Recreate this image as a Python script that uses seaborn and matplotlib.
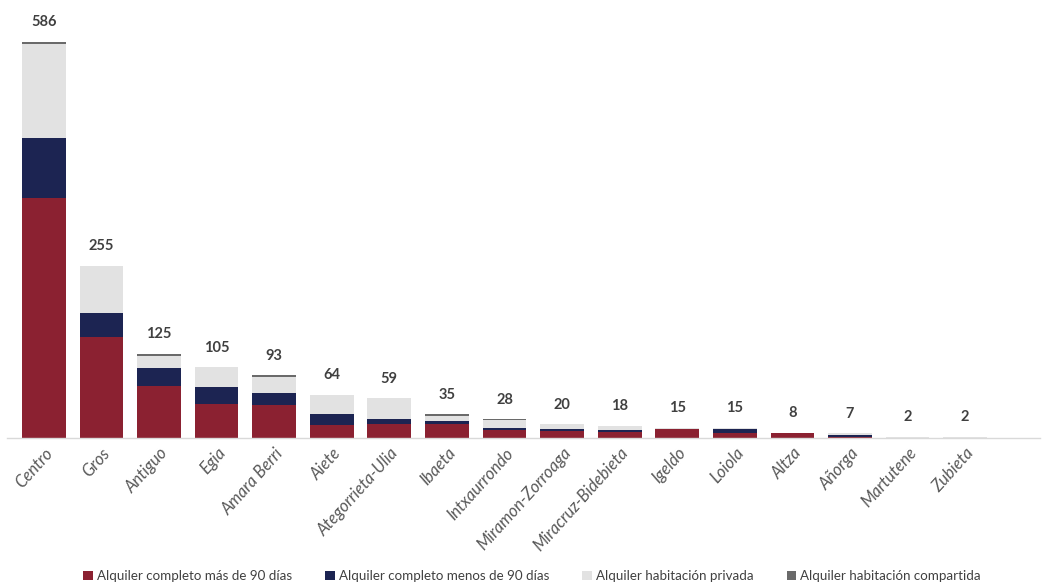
import numpy as np
import pandas as pd
import matplotlib
matplotlib.use("Agg")
import matplotlib.pyplot as plt
import seaborn as sns
from matplotlib.patches import Patch

barrios = ["Centro", "Gros", "Antiguo", "Egia", "Amara Berri", "Aiete",
           "Ategorrieta-Ulia", "Ibaeta", "Intxaurrondo", "Miramon-Zorroaga",
           "Miracruz-Bidebieta", "Igeldo", "Loiola", "Altza", "Añorga",
           "Martutene", "Zubieta"]
completo_mas_90 = [355, 150, 77, 50, 49, 19, 20, 20, 12, 11, 9, 14, 8, 7, 1, 0, 0]
completo_menos_90 = [89, 35, 26, 25, 17, 16, 8, 5, 3, 3, 3, 0, 5, 0, 4, 0, 0]
habitacion_privada = [139, 70, 19, 30, 25, 29, 31, 8, 11, 6, 6, 1, 2, 1, 2, 2, 2]
habitacion_compartida = [3, 0, 3, 0, 2, 0, 0, 2, 2, 0, 0, 0, 0, 0, 0, 0, 0]
totales = [586, 255, 125, 105, 93, 64, 59, 35, 28, 20, 18, 15, 15, 8, 7, 2, 2]

series = ["Alquiler completo más de 90 días", "Alquiler completo menos de 90 días",
          "Alquiler habitación privada", "Alquiler habitación compartida"]
colores = ["#8B2131", "#1C2452", "#E2E2E2", "#6A6A6A"]

sns.set_theme(style="white")
plt.rcParams["font.family"] = ["Lato", "DejaVu Sans"]

df = pd.DataFrame({
    "barrio": barrios,
    series[0]: completo_mas_90,
    series[1]: completo_menos_90,
    series[2]: habitacion_privada,
    series[3]: habitacion_compartida,
})
capas = df[series].cumsum(axis=1)

fig = plt.figure(figsize=(10.43, 5.87), dpi=100)
ax = fig.add_axes([7 / 1043, 1 - 438 / 587, 1033 / 1043, 419 / 587])

# stacked bars: draw cumulative heights from the top layer down
for nombre, color in reversed(list(zip(series, colores))):
    sns.barplot(x=df["barrio"], y=capas[nombre], color=color, width=0.76,
                saturation=1, ax=ax, linewidth=0)

for i, total in enumerate(totales):
    ax.annotate(str(total), (i, total), xytext=(0, 9), textcoords="offset points",
                ha="center", va="bottom", fontsize=10.5, fontweight="bold",
                color="#404040")

ax.set_xlim(-0.64, 17.3)
ax.set_ylim(0, 620)
ax.set_xlabel("")
ax.set_ylabel("")
ax.set_yticks([])
for lado in ["top", "right", "left"]:
    ax.spines[lado].set_visible(False)
ax.spines["bottom"].set_color("#D9D9D9")
ax.spines["bottom"].set_linewidth(1)
ax.tick_params(axis="x", length=0, pad=5)
plt.setp(ax.get_xticklabels(), rotation=48, ha="right", rotation_mode="anchor",
         fontstyle="italic", fontsize=12, color="#595959")

handles = [Patch(facecolor=c, edgecolor="none") for c in colores]
fig.legend(handles, series, loc="lower center", bbox_to_anchor=(0.51, -0.012),
           ncol=4, frameon=False, fontsize=9.6, handlelength=0.7,
           handleheight=0.7, handletextpad=0.3, columnspacing=2.5,
           labelcolor="#404040")

fig.savefig("out.png", dpi=100)
